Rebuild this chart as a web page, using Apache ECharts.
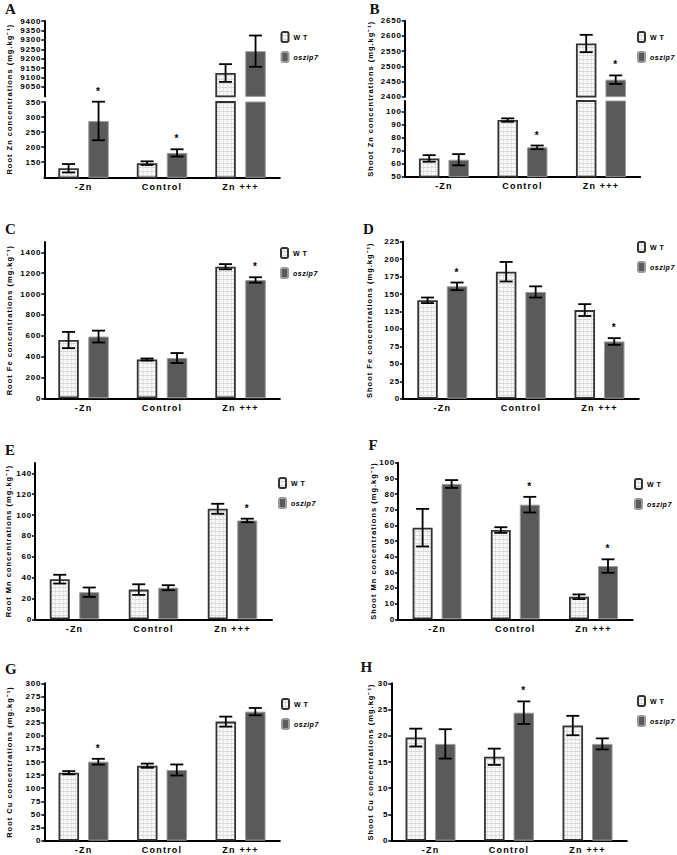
<!DOCTYPE html>
<html><head><meta charset="utf-8">
<script src="https://cdn.jsdelivr.net/npm/echarts@6/dist/echarts.min.js"></script>
<style>
html,body{margin:0;padding:0;background:#fff;}
#chart{width:677px;height:855px;}
#chart svg text{letter-spacing:1px;}
#chart svg text[style*="9px"]{letter-spacing:1.2px;}
#chart svg text[style*="8px"]{letter-spacing:0.8px;}
#chart svg text[style*="7px"]{letter-spacing:0.5px;}
</style></head><body><div id="chart"></div>
<script>
// ---------------- DATA ----------------
const categories = ['-Zn', 'Control', 'Zn +++'];
const seriesNames = ['W T', 'oszip7'];

// A: Root Zn
const rootZnWT = [130, 147, 9124];
const rootZnWTErr = [14, 6, 47];
const rootZnMut = [287, 181, 9240];
const rootZnMutErr = [64, 12, 83];
const rootZnMutStar = [1, 1, 0];
// B: Shoot Zn
const shootZnWT = [64, 93.4, 2575];
const shootZnWTErr = [2.5, 1.3, 28.5];
const shootZnMut = [63, 72.5, 2456];
const shootZnMutErr = [4.3, 1.4, 14];
const shootZnMutStar = [0, 1, 1];
// C: Root Fe
const rootFeWT = [559, 372, 1262];
const rootFeWTErr = [78, 10, 25];
const rootFeMut = [592, 386, 1135];
const rootFeMutErr = [57, 48, 26];
const rootFeMutStar = [0, 0, 1];
// D: Shoot Fe
const shootFeWT = [141, 182, 127];
const shootFeWTErr = [4, 14, 8.5];
const shootFeMut = [161, 153, 82];
const shootFeMutErr = [5.5, 8, 4.8];
const shootFeMutStar = [1, 0, 1];
// E: Root Mn
const rootMnWT = [38.5, 28.5, 106];
const rootMnWTErr = [4.2, 5.1, 4.8];
const rootMnMut = [26, 30.3, 94.8];
const rootMnMutErr = [4.5, 2.4, 1.7];
const rootMnMutStar = [0, 0, 1];
// F: Shoot Mn
const shootMnWT = [58.5, 57, 14.4];
const shootMnWTErr = [12, 1.8, 1.5];
const shootMnMut = [86.4, 73.2, 34];
const shootMnMutErr = [2.5, 5, 4.3];
const shootMnMutStar = [0, 1, 1];
// G: Root Cu
const rootCuWT = [129.6, 143, 227];
const rootCuWTErr = [3, 4, 9.5];
const rootCuMut = [150.6, 134.8, 246];
const rootCuMutErr = [5.5, 10.5, 7];
const rootCuMutStar = [1, 0, 0];
// H: Shoot Cu
const shootCuWT = [19.66, 16.0, 21.95];
const shootCuWTErr = [1.7, 1.55, 1.85];
const shootCuMut = [18.45, 24.4, 18.45];
const shootCuMutErr = [2.8, 2.15, 1.05];
const shootCuMutStar = [0, 1, 0];

// ---------------- LAYOUT ----------------
const panels = [
  {letter:'A', name:'Root Zn concentrations (mg.kg⁻¹)', wt:rootZnWT, wtErr:rootZnWTErr, mut:rootZnMut, mutErr:rootZnMutErr, star:rootZnMutStar,
   axisX:44.3, catW:78.5, nameGap:31, titlePos:[5,1], legendPos:[280.5,31], barW:20.5, sep:30,
   segments:[{min:100,max:350,interval:50,top:102,bottom:177.3,showMin:false,showMax:true},
             {min:9000,max:9400,interval:50,top:21,bottom:96.4,showMin:false,showMax:true}]},
  {letter:'B', name:'Shoot Zn concentrations (mg.kg⁻¹)', wt:shootZnWT, wtErr:shootZnWTErr, mut:shootZnMut, mutErr:shootZnMutErr, star:shootZnMutStar,
   axisX:404.7, catW:78.5, nameGap:30, titlePos:[369.5,1], legendPos:[637,31], barW:20.5, sep:29.5,
   segments:[{min:50,max:108,interval:10,top:101,bottom:176.7,showMin:true,showMax:false},
             {min:2400,max:2650,interval:50,top:20.7,bottom:96.7,showMin:true,showMax:true}]},
  {letter:'C', name:'Root Fe concentrations (mg.kg⁻¹)', wt:rootFeWT, wtErr:rootFeWTErr, mut:rootFeMut, mutErr:rootFeMutErr, star:rootFeMutStar,
   axisX:44.3, catW:78.5, nameGap:31, titlePos:[5,221], legendPos:[280,247], barW:20.5, sep:30,
   segments:[{min:0,max:1500,interval:200,top:241.9,bottom:398.3,showMin:true,showMax:false}]},
  {letter:'D', name:'Shoot Fe concentrations (mg.kg⁻¹)', wt:shootFeWT, wtErr:shootFeWTErr, mut:shootFeMut, mutErr:shootFeMutErr, star:shootFeMutStar,
   axisX:403, catW:78.6, nameGap:30, titlePos:[363,221], legendPos:[637,241], barW:20.5, sep:29.5,
   segments:[{min:0,max:225,interval:25,top:241.7,bottom:398.7,showMin:true,showMax:true}]},
  {letter:'E', name:'Root Mn concentrations (mg.kg⁻¹)', wt:rootMnWT, wtErr:rootMnWTErr, mut:rootMnMut, mutErr:rootMnMutErr, star:rootMnMutStar,
   axisX:35, catW:79, nameGap:23, titlePos:[5,442.5], legendPos:[278,477], barW:20, sep:29.5,
   segments:[{min:0,max:150,interval:20,top:462.9,bottom:619.3,showMin:true,showMax:false}]},
  {letter:'F', name:'Shoot Mn concentrations (mg.kg⁻¹)', wt:shootMnWT, wtErr:shootMnWTErr, mut:shootMnMut, mutErr:shootMnMutErr, star:shootMnMutStar,
   axisX:398, catW:78.2, nameGap:20, titlePos:[368.5,437.5], legendPos:[634,478], barW:20, sep:29,
   segments:[{min:0,max:100,interval:10,top:462.7,bottom:619.3,showMin:true,showMax:true}]},
  {letter:'G', name:'Root Cu concentrations (mg.kg⁻¹)', wt:rootCuWT, wtErr:rootCuWTErr, mut:rootCuMut, mutErr:rootCuMutErr, star:rootCuMutStar,
   axisX:44.3, catW:78.5, nameGap:31, titlePos:[5,661], legendPos:[281,698], barW:20.5, sep:29.5,
   segments:[{min:0,max:300,interval:25,top:683.3,bottom:840.7,showMin:true,showMax:true}]},
  {letter:'H', name:'Shoot Cu concentrations (mg.kg⁻¹)', wt:shootCuWT, wtErr:shootCuWTErr, mut:shootCuMut, mutErr:shootCuMutErr, star:shootCuMutStar,
   axisX:391.3, catW:78.5, nameGap:17, titlePos:[360.5,659], legendPos:[637,695], barW:20.5, sep:29.5,
   segments:[{min:0,max:30,interval:5,top:683.3,bottom:840.7,showMin:true,showMax:true}]}
];

// ---------------- STYLE ----------------
const SANS = '"Liberation Sans", Arial, sans-serif';
const tile = document.createElement('canvas');
tile.width = 4; tile.height = 4;
const tc = tile.getContext('2d');
tc.fillStyle = '#f8f8f8'; tc.fillRect(0, 0, 4, 4);
tc.fillStyle = '#dadada'; tc.fillRect(0, 3, 4, 1);
tc.fillStyle = '#e3e3e3'; tc.fillRect(3, 0, 1, 3);
const wtFill = {image: tile, repeat: 'repeat', imageWidth: 4, imageHeight: 4};

const axisLineStyle = {color: '#000', width: 2};
const nameStyle = {fontFamily: SANS, fontWeight: 'bold', fontSize: 7.5, color: '#000'};
const plainNum = v => String(v);

const option = {animation: false, backgroundColor: '#fff', title: [], legend: [], grid: [], xAxis: [], yAxis: [], series: []};

panels.forEach(p => {
  option.title.push({text: p.letter, left: p.titlePos[0], top: p.titlePos[1], padding: 0,
    textStyle: {fontFamily: '"Liberation Serif", "Times New Roman", serif', fontWeight: 'bold', fontSize: 15, color: '#111'}});
  const broken = p.segments.length > 1;
  const gridW = p.catW * categories.length;
  const barGap = ((p.sep - p.barW) / p.barW * 100).toFixed(1) + '%';
  p.segments.forEach((s, si) => {
    const gi = option.grid.length;
    option.grid.push({left: p.axisX, top: s.top, width: gridW, height: s.bottom - s.top, outerBoundsMode: 'none', containLabel: false});
    option.xAxis.push({type: 'category', gridIndex: gi, data: categories, show: si === 0,
      axisLine: {onZero: false, lineStyle: axisLineStyle},
      axisTick: {alignWithLabel: true, length: 3, lineStyle: {color: '#000', width: 1.5}},
      axisLabel: {margin: 5, color: '#000', fontFamily: SANS, fontWeight: 'bold', fontSize: 9}});
    option.yAxis.push({type: 'value', gridIndex: gi, min: s.min, max: s.max, interval: s.interval,
      splitLine: {show: false},
      axisLine: {show: true, lineStyle: axisLineStyle},
      axisTick: {show: true, length: 3, lineStyle: {color: '#000', width: 1.5}},
      axisLabel: {margin: 3, formatter: plainNum, showMinLabel: s.showMin, showMaxLabel: s.showMax, color: '#000', fontFamily: SANS, fontWeight: 'bold', fontSize: 8},
      name: broken ? '' : p.name, nameLocation: 'middle', nameGap: p.nameGap, nameRotate: 90, nameTextStyle: nameStyle});
    option.series.push({type: 'bar', name: seriesNames[0], xAxisIndex: gi, yAxisIndex: gi, data: p.wt,
      barWidth: p.barW, barGap: barGap, clip: true,
      itemStyle: {color: wtFill, borderColor: '#333', borderWidth: 1.8}});
    option.series.push({type: 'bar', name: seriesNames[1], xAxisIndex: gi, yAxisIndex: gi, data: p.mut,
      barWidth: p.barW, barGap: barGap, clip: true,
      itemStyle: {color: '#5a5a5a', borderColor: '#9a9a9a', borderWidth: 1}});
    const errData = [];
    [[p.wt, p.wtErr, [0, 0, 0]], [p.mut, p.mutErr, p.star]].forEach((trip, k) => {
      trip[0].forEach((v, i) => {
        if (v >= s.min && v <= s.max) errData.push([i, v - trip[1][i], v + trip[1][i], k, trip[2][i]]);
      });
    });
    option.series.push({type: 'custom', xAxisIndex: gi, yAxisIndex: gi, data: errData, silent: true, z: 5,
      encode: {x: 0, y: [1, 2]},
      renderItem: (params, api) => {
        const cat = api.value(0), k = api.value(3), st = api.value(4);
        const lo = api.coord([cat, api.value(1)]);
        const hi = api.coord([cat, api.value(2)]);
        const x = lo[0] + (k ? 1 : -1) * p.sep / 2;
        const cw = 6.5;
        const ls = {stroke: '#000', lineWidth: 1.8};
        const children = [
          {type: 'line', shape: {x1: x, y1: lo[1], x2: x, y2: hi[1]}, style: ls},
          {type: 'line', shape: {x1: x - cw, y1: lo[1], x2: x + cw, y2: lo[1]}, style: ls},
          {type: 'line', shape: {x1: x - cw, y1: hi[1], x2: x + cw, y2: hi[1]}, style: ls}
        ];
        if (st) children.push({type: 'text', style: {text: '*', x: x, y: hi[1] - 10.5, align: 'center', verticalAlign: 'middle',
          font: 'bold 10px ' + SANS, fill: '#000'}});
        return {type: 'group', children: children};
      }});
  });
  if (broken) {
    const gi = option.grid.length;
    const top = p.segments[p.segments.length - 1].top, bottom = p.segments[0].bottom;
    option.grid.push({left: p.axisX, top: top, width: gridW, height: bottom - top, outerBoundsMode: 'none', containLabel: false});
    option.xAxis.push({type: 'category', gridIndex: gi, data: categories, show: false});
    option.yAxis.push({type: 'value', gridIndex: gi, min: 0, max: 1, splitLine: {show: false},
      axisLine: {show: false}, axisTick: {show: false}, axisLabel: {show: false},
      name: p.name, nameLocation: 'middle', nameGap: p.nameGap, nameRotate: 90, nameTextStyle: nameStyle});
  }
  option.legend.push({left: p.legendPos[0], top: p.legendPos[1], orient: 'vertical', padding: 0,
    itemWidth: 7, itemHeight: 10, itemGap: 8, selectedMode: false, data: seriesNames,
    formatter: n => n === 'oszip7' ? '{i|oszip7}' : '{n|' + n + '}',
    textStyle: {color: '#000', fontFamily: SANS, fontWeight: 'bold', fontSize: 7,
      rich: {n: {fontFamily: SANS, fontWeight: 'bold', fontSize: 7, color: '#000'},
             i: {fontFamily: SANS, fontWeight: 'bold', fontStyle: 'italic', fontSize: 7, color: '#000'}}}});
});

const chart = echarts.init(document.getElementById('chart'), null, {renderer: 'svg', width: 677, height: 855});
chart.setOption(option);
</script></body></html>
